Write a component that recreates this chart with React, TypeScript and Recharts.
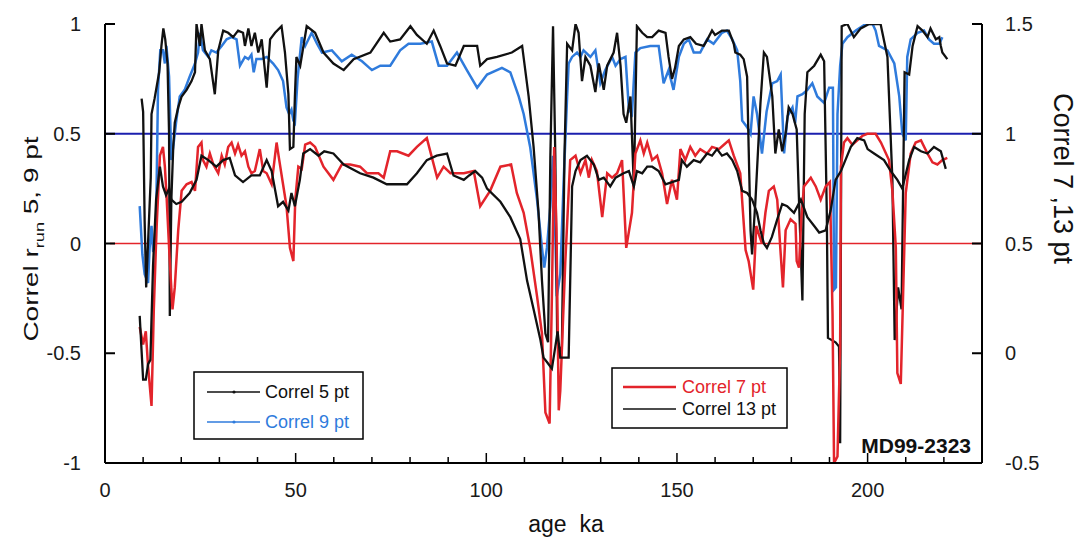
import { LineChart, Line, XAxis, YAxis, ReferenceLine } from 'recharts'

// [age ka, correlation] pairs; 5 and 9 pt on the left scale, 7 and 13 pt on the right scale
const correl5: [number, number][] = [
  [9.6, 0.66], [10.0, 0.6], [10.4, 0.1], [10.8, -0.2], [11.4, 0.05], [12.0, 0.3], [12.2, 0.59], [13.0, 0.66],
  [13.6, 0.72], [14.2, 0.78], [14.8, 0.9], [15.3, 0.98], [15.8, 0.93], [16.4, 0.82], [16.8, 0.5], [17.0, -0.33],
  [17.4, 0.2], [17.9, 0.44], [18.3, 0.55], [19.2, 0.62], [20.1, 0.67], [21.4, 0.7], [22.7, 0.74], [23.6, 0.78],
  [24.0, 1.0], [24.9, 0.9], [25.3, 1.0], [26.2, 0.88], [27.5, 0.84], [28.8, 0.68], [29.7, 0.88], [31.0, 0.97],
  [32.3, 0.96], [33.6, 0.94], [34.9, 0.97], [36.2, 0.96], [36.7, 0.9], [37.6, 0.98], [38.4, 0.9], [39.3, 0.96],
  [40.2, 0.87], [41.1, 0.93], [42.4, 0.71], [43.3, 0.93], [44.6, 0.96], [46.3, 0.99], [47.2, 0.87], [48.1, 0.68],
  [48.5, 0.43], [49.4, 0.44], [49.8, 0.67], [50.2, 0.85], [51.2, 0.81], [52.9, 0.99], [55.1, 0.96], [57.3, 0.87],
  [59.9, 0.82], [62.6, 0.79], [65.2, 0.84], [69.6, 0.87], [73.1, 0.96], [74.8, 0.92], [77.4, 0.93], [80.1, 0.99],
  [81.8, 0.95], [84.4, 0.91], [86.2, 0.97], [87.9, 0.9], [89.7, 0.82], [91.9, 0.81], [94.1, 0.9], [97.6, 0.9],
  [98.4, 0.81], [100.2, 0.84], [102.8, 0.85], [106.7, 0.87], [109.4, 0.9], [111.1, 0.67], [112.4, 0.44], [113.7, 0.14],
  [114.6, -0.17], [115.5, -0.41], [116.2, -0.45], [116.8, 0.4], [117.5, 0.99], [118.1, 0.4], [118.6, -0.45], [119.8, -0.5],
  [120.5, 0.4], [121.2, 0.91], [122.5, 0.88], [123.4, 1.0], [124.2, 0.96], [125.1, 0.74], [126.0, 0.85], [127.3, 0.81],
  [128.6, 0.69], [129.5, 0.82], [130.8, 0.7], [131.7, 0.81], [133.4, 0.87], [134.3, 0.96], [135.2, 0.81], [136.0, 0.59],
  [136.7, 0.55], [137.8, 0.67], [138.7, 0.26], [139.5, 0.99], [140.9, 0.96], [142.2, 0.94], [143.5, 0.94], [145.2, 0.97],
  [147.0, 0.96], [147.8, 0.85], [148.7, 0.75], [149.5, 0.8], [150.5, 0.9], [151.8, 0.93], [153.5, 0.94], [155.0, 0.91],
  [157.0, 0.9], [158.0, 0.93], [159.2, 0.97], [160.0, 0.95], [161.8, 0.97], [163.6, 0.97], [164.9, 0.91], [165.3, 0.87],
  [166.6, 0.86], [167.5, 0.84], [168.4, 0.76], [168.8, 0.44], [169.3, 0.06], [169.7, -0.05], [170.6, 0.2], [171.9, 0.64],
  [172.8, 0.87], [173.6, 0.85], [175.0, 0.67], [175.8, 0.41], [176.7, 0.52], [177.6, 0.42], [178.5, 0.5], [179.3, 0.62],
  [180.3, 0.59], [181.4, 0.52], [182.0, 0.2], [182.9, -0.26], [183.5, 0.59], [184.2, 0.78], [186.0, 0.81], [187.7, 0.86],
  [188.6, 0.83], [189.3, 0.14], [189.6, -0.43], [191.6, -0.45], [192.5, -0.47], [192.8, -0.91], [193.2, 0.99], [194.7, 1.0],
  [196.4, 0.94], [198.2, 0.98], [200.4, 1.0], [203.4, 1.0], [205.2, 0.85], [206.5, 0.29], [207.1, -0.44], [208.0, -0.2],
  [208.9, -0.3], [209.7, 0.78], [210.9, 0.77], [211.8, 0.9], [213.1, 0.99], [214.4, 0.97], [215.7, 0.94], [216.5, 0.98],
  [217.9, 0.93], [218.8, 0.94], [219.2, 0.9], [219.6, 0.87], [220.9, 0.84],
]

const correl9: [number, number][] = [
  [9.1, 0.17], [9.8, -0.05], [10.4, -0.14], [11.3, -0.18], [11.7, -0.02], [12.2, 0.08], [12.6, -0.03], [13.3, -0.02],
  [13.9, 0.7], [14.5, 0.88], [15.2, 0.88], [15.7, 0.82], [16.1, 0.9], [16.8, 0.76], [17.4, 0.38], [17.9, 0.44],
  [18.7, 0.56], [19.6, 0.67], [20.9, 0.7], [22.2, 0.76], [23.6, 0.82], [24.4, 0.87], [24.9, 0.96], [25.7, 0.88],
  [27.1, 0.85], [27.9, 0.88], [29.2, 0.87], [30.6, 0.9], [31.9, 0.93], [33.2, 0.94], [34.5, 0.93], [35.4, 0.81],
  [36.7, 0.85], [37.6, 0.84], [38.4, 0.86], [39.0, 0.78], [39.7, 0.84], [41.1, 0.84], [42.4, 0.85], [44.1, 0.82],
  [45.4, 0.79], [46.7, 0.74], [47.6, 0.62], [48.3, 0.59], [48.9, 0.61], [49.4, 0.56], [49.8, 0.55], [50.5, 0.75],
  [51.6, 0.94], [52.5, 0.9], [54.2, 0.96], [55.6, 0.91], [56.9, 0.87], [59.5, 0.88], [62.1, 0.83], [64.7, 0.86],
  [67.4, 0.83], [70.0, 0.79], [72.2, 0.81], [74.8, 0.81], [77.4, 0.88], [79.6, 0.91], [82.7, 0.91], [85.7, 0.92],
  [87.5, 0.81], [89.7, 0.81], [92.3, 0.87], [94.9, 0.79], [97.6, 0.71], [100.2, 0.77], [104.1, 0.8], [106.3, 0.78],
  [108.5, 0.67], [109.8, 0.59], [111.5, 0.44], [113.3, 0.2], [114.6, -0.02], [115.2, -0.11], [115.9, -0.02], [116.8, 0.17],
  [117.5, 0.4], [118.0, 0.1], [118.5, -0.24], [119.4, -0.14], [120.3, 0.29], [121.2, 0.67], [121.6, 0.82], [122.5, 0.85],
  [123.8, 0.87], [124.7, 0.85], [125.5, 0.88], [127.3, 0.85], [128.6, 0.88], [129.9, 0.73], [131.2, 0.79], [133.0, 0.85],
  [133.9, 0.81], [135.2, 0.84], [136.5, 0.85], [137.4, 0.61], [138.2, 0.59], [139.1, 0.87], [140.4, 0.89], [143.0, 0.9],
  [145.2, 0.9], [146.5, 0.73], [147.8, 0.79], [149.1, 0.7], [150.5, 0.85], [151.8, 0.91], [153.1, 0.93], [154.4, 0.87],
  [156.1, 0.87], [157.9, 0.93], [159.6, 0.91], [161.8, 0.96], [163.1, 0.97], [164.5, 0.93], [165.8, 0.88], [166.6, 0.74],
  [167.1, 0.56], [168.4, 0.53], [169.3, 0.5], [170.1, 0.67], [171.0, 0.59], [172.3, 0.41], [173.5, 0.6], [175.0, 0.73],
  [176.3, 0.74], [177.2, 0.77], [178.1, 0.41], [179.0, 0.58], [180.3, 0.62], [181.0, 0.55], [181.6, 0.67], [182.9, 0.68],
  [184.2, 0.7], [185.5, 0.73], [186.8, 0.67], [188.6, 0.64], [189.9, 0.71], [190.9, 0.71], [191.2, -0.21], [191.7, -0.2],
  [192.1, 0.59], [192.8, 0.81], [193.4, 0.91], [194.7, 0.94], [196.9, 0.97], [199.5, 1.0], [201.3, 1.0], [202.1, 0.97],
  [203.0, 0.9], [205.2, 0.88], [207.0, 0.82], [208.3, 0.67], [209.1, 0.5], [210.0, 0.47], [210.4, 0.85], [211.3, 0.93],
  [213.1, 0.96], [214.8, 0.97], [216.1, 0.93], [217.4, 0.91], [218.8, 0.91], [219.6, 0.94],
]

const correl7: [number, number][] = [
  [9.1, 0.12], [10.0, 0.04], [10.7, 0.1], [11.3, -0.06], [12.2, -0.24], [12.8, 0.2], [13.5, 0.56], [14.4, 0.9],
  [15.2, 0.94], [15.7, 0.85], [16.1, 0.73], [16.9, 0.45], [17.7, 0.2], [18.3, 0.3], [19.2, 0.56], [20.1, 0.74],
  [21.4, 0.77], [22.7, 0.78], [23.6, 0.74], [24.4, 0.94], [25.3, 0.96], [25.7, 0.88], [26.6, 0.85], [27.5, 0.91],
  [28.4, 0.86], [29.7, 0.82], [30.6, 0.9], [31.4, 0.86], [32.3, 0.94], [33.2, 0.96], [34.1, 0.91], [34.9, 0.95],
  [35.8, 0.9], [36.7, 0.92], [37.6, 0.85], [38.4, 0.82], [39.3, 0.83], [40.6, 0.93], [41.5, 0.83], [42.4, 0.82],
  [43.7, 0.77], [45.0, 0.96], [45.7, 0.88], [46.6, 0.78], [47.6, 0.67], [48.5, 0.48], [49.4, 0.42], [49.9, 0.7],
  [50.7, 0.85], [51.6, 0.84], [52.5, 0.95], [53.8, 0.96], [55.1, 0.94], [57.3, 0.85], [59.9, 0.79], [62.1, 0.86],
  [64.3, 0.86], [66.9, 0.85], [68.7, 0.82], [71.7, 0.82], [73.1, 0.8], [74.8, 0.92], [76.6, 0.92], [79.6, 0.9],
  [81.8, 0.94], [84.4, 0.98], [87.1, 0.8], [88.8, 0.85], [90.6, 0.82], [92.3, 0.82], [94.1, 0.82], [96.7, 0.83],
  [98.4, 0.67], [101.0, 0.74], [103.7, 0.85], [106.5, 0.86], [108.0, 0.73], [109.8, 0.64], [111.5, 0.48], [113.3, 0.26],
  [114.6, 0.09], [115.5, -0.27], [116.6, -0.32], [117.2, 0.26], [117.8, 0.94], [118.4, 0.56], [119.0, -0.26], [119.4, -0.17],
  [120.7, 0.41], [122.0, 0.88], [123.4, 0.9], [124.7, 0.82], [126.0, 0.88], [126.9, 0.8], [127.7, 0.88], [129.0, 0.83],
  [130.4, 0.62], [131.7, 0.82], [133.0, 0.8], [134.3, 0.82], [135.6, 0.88], [136.7, 0.48], [138.2, 0.64], [139.1, 0.91],
  [140.4, 0.97], [141.3, 0.91], [142.2, 0.96], [143.5, 0.88], [144.8, 0.9], [146.1, 0.82], [147.4, 0.68], [148.7, 0.79],
  [150.0, 0.7], [150.9, 0.93], [152.2, 0.88], [153.5, 0.94], [154.8, 0.9], [156.1, 0.93], [157.9, 0.91], [159.2, 0.94],
  [161.0, 0.93], [162.3, 0.95], [163.6, 0.97], [164.9, 0.9], [166.6, 0.82], [168.0, 0.47], [168.8, 0.42], [170.0, 0.29],
  [170.8, 0.58], [171.5, 0.54], [172.3, 0.5], [173.2, 0.64], [174.1, 0.74], [175.4, 0.76], [176.3, 0.7], [177.1, 0.48],
  [177.8, 0.3], [178.5, 0.56], [179.8, 0.61], [181.1, 0.59], [181.4, 0.42], [182.0, 0.39], [182.6, 0.61], [183.3, 0.76],
  [185.1, 0.8], [186.4, 0.76], [187.7, 0.7], [189.0, 0.76], [190.1, 0.78], [190.8, 0.18], [191.2, -0.5], [192.1, -0.47],
  [192.8, 0.03], [193.0, 0.85], [193.8, 0.96], [194.7, 0.98], [196.0, 0.95], [197.3, 0.97], [198.6, 0.99], [199.9, 1.0],
  [202.1, 1.0], [203.5, 0.96], [205.6, 0.88], [206.5, 0.74], [207.4, 0.48], [207.8, -0.09], [208.7, -0.14], [209.4, 0.33],
  [210.0, 0.73], [211.3, 0.91], [212.6, 0.96], [214.0, 0.97], [215.7, 0.91], [217.0, 0.87], [218.3, 0.86], [219.6, 0.88],
  [220.9, 0.89],
]

const correl13: [number, number][] = [
  [9.1, 0.17], [10.0, -0.12], [10.7, -0.12], [11.3, -0.05], [11.9, -0.03], [12.6, 0.4], [13.4, 0.7], [14.4, 0.85],
  [15.2, 0.76], [16.0, 0.72], [16.8, 0.75], [17.4, 0.7], [18.7, 0.68], [20.1, 0.69], [22.2, 0.73], [24.0, 0.79],
  [25.3, 0.9], [27.1, 0.88], [29.2, 0.85], [31.0, 0.88], [32.7, 0.89], [34.1, 0.81], [36.2, 0.78], [38.4, 0.81],
  [40.6, 0.81], [42.4, 0.88], [43.7, 0.83], [45.4, 0.67], [46.7, 0.69], [48.1, 0.65], [48.9, 0.73], [49.8, 0.67],
  [51.1, 0.79], [52.0, 0.91], [53.8, 0.93], [56.0, 0.9], [57.5, 0.92], [59.9, 0.91], [62.6, 0.86], [66.9, 0.82],
  [70.4, 0.8], [73.9, 0.77], [79.2, 0.77], [81.8, 0.82], [84.4, 0.88], [87.0, 0.9], [89.7, 0.91], [91.4, 0.81],
  [94.1, 0.79], [95.5, 0.81], [97.1, 0.83], [98.9, 0.8], [100.2, 0.75], [103.7, 0.69], [106.3, 0.62], [108.9, 0.52],
  [110.7, 0.33], [112.4, 0.2], [114.2, 0.06], [115.0, -0.02], [115.9, -0.04], [117.2, -0.07], [118.1, 0.03], [118.7, 0.1],
  [119.4, -0.02], [120.7, -0.02], [121.6, -0.02], [122.5, 0.76], [123.4, 0.83], [124.7, 0.88], [126.4, 0.9], [128.2, 0.86],
  [129.5, 0.79], [130.8, 0.8], [132.5, 0.76], [133.9, 0.8], [136.0, 0.82], [137.4, 0.83], [138.7, 0.76], [139.5, 0.83],
  [140.9, 0.82], [142.2, 0.85], [143.5, 0.85], [145.2, 0.83], [147.0, 0.77], [148.7, 0.78], [150.5, 0.79], [151.3, 0.88],
  [152.6, 0.85], [154.4, 0.88], [156.1, 0.87], [157.9, 0.91], [159.2, 0.9], [160.5, 0.93], [161.8, 0.9], [163.1, 0.91],
  [164.5, 0.88], [165.8, 0.83], [167.1, 0.74], [168.4, 0.73], [169.7, 0.7], [171.0, 0.64], [171.9, 0.56], [172.8, 0.5],
  [173.6, 0.48], [174.9, 0.53], [176.3, 0.61], [177.6, 0.68], [178.9, 0.67], [180.7, 0.64], [182.5, 0.7], [184.2, 0.62],
  [186.0, 0.58], [187.3, 0.55], [189.0, 0.56], [190.3, 0.65], [191.6, 0.79], [193.0, 0.83], [195.6, 0.94], [197.3, 0.98],
  [199.1, 0.97], [200.0, 0.93], [201.7, 0.91], [204.3, 0.88], [206.1, 0.83], [207.8, 0.79], [209.1, 0.75], [210.9, 0.88],
  [212.2, 0.94], [214.0, 0.92], [215.7, 0.91], [217.4, 0.94], [219.2, 0.92], [220.5, 0.84],
]

const xTicks = [0, 10, 20, 30, 40, 50, 60, 70, 80, 90, 100, 110, 120, 130, 140, 150, 160, 170, 180, 190, 200, 210, 220, 230]
const leftTicks = [-1, -0.5, 0, 0.5, 1]
const rightTicks = [-0.5, 0, 0.5, 1, 1.5]

const FONT = '"Liberation Sans", Arial, sans-serif'
const BLACK = '#111'
const BLUE = '#2f7bdc'
const RED = '#e3242b'
const NAVY = '#1b1fae'

const rows = (pts: [number, number][]) => pts.map(([age, v]) => ({ age, v }))

// ticks point into the plot, so the tick mark is drawn together with its label
function LeftTick({ x, y, payload }: any) {
  return (
    <g>
      <line x1={x} x2={x + 10} y1={y} y2={y} stroke="#000" strokeWidth={2} />
      <text x={x - 24} y={y + 7} textAnchor="end" fontSize={20} fontFamily={FONT} fill="#1a1a1a">
        {payload.value}
      </text>
    </g>
  )
}

function RightTick({ x, y, payload }: any) {
  return (
    <g>
      <line x1={x - 10} x2={x} y1={y} y2={y} stroke="#000" strokeWidth={2} />
      <text x={x + 23} y={y + 7} textAnchor="start" fontSize={20} fontFamily={FONT} fill="#1a1a1a">
        {payload.value}
      </text>
    </g>
  )
}

function BottomTick({ x, y, payload }: any) {
  const major = payload.value % 50 === 0
  return (
    <g>
      <line x1={x} x2={x} y1={y} y2={y - (major ? 10 : 6)} stroke="#000" strokeWidth={1.5} />
      {major && (
        <text x={x} y={y + 34} textAnchor="middle" fontSize={20} fontFamily={FONT} fill="#1a1a1a">
          {payload.value}
        </text>
      )}
    </g>
  )
}

export default function App() {
  const W = 1081
  const H = 538

  // pinned to the page corner so the figure fills the window without scrolling
  return (
    <div style={{ position: 'absolute', left: 0, top: 0, width: W, height: H, fontFamily: FONT, background: '#fff' }}>
      <LineChart width={W} height={H} margin={{ top: 24, right: 21, bottom: 25, left: 0 }}>
        <XAxis
          dataKey="age"
          type="number"
          domain={[0, 230]}
          ticks={xTicks}
          interval={0}
          height={50}
          tickSize={0}
          tickMargin={0}
          tickLine={false}
          axisLine={{ stroke: '#000', strokeWidth: 2 }}
          tick={<BottomTick />}
          allowDataOverflow
        />
        <YAxis
          yAxisId="left"
          type="number"
          domain={[-1, 1]}
          ticks={leftTicks}
          interval={0}
          width={105}
          tickSize={0}
          tickMargin={0}
          tickLine={false}
          axisLine={{ stroke: '#000', strokeWidth: 2 }}
          tick={<LeftTick />}
          allowDataOverflow
        />
        <YAxis
          yAxisId="right"
          orientation="right"
          type="number"
          domain={[-0.5, 1.5]}
          ticks={rightTicks}
          interval={0}
          width={78}
          tickSize={0}
          tickMargin={0}
          tickLine={false}
          axisLine={{ stroke: '#000', strokeWidth: 2 }}
          tick={<RightTick />}
          allowDataOverflow
        />
        <ReferenceLine yAxisId="left" y={0.5} stroke={NAVY} strokeWidth={2} />
        <ReferenceLine
          yAxisId="left"
          segment={[{ x: 1.3, y: 0 }, { x: 230, y: 0 }]}
          stroke={RED}
          strokeWidth={1.5}
        />
        <Line yAxisId="left" data={rows(correl9)} dataKey="v" type="linear" stroke={BLUE} strokeWidth={2.5} dot={false} isAnimationActive={false} />
        <Line yAxisId="left" data={rows(correl5)} dataKey="v" type="linear" stroke={BLACK} strokeWidth={2.3} dot={false} isAnimationActive={false} />
        <Line yAxisId="right" data={rows(correl7)} dataKey="v" type="linear" stroke={RED} strokeWidth={2.5} dot={false} isAnimationActive={false} />
        <Line yAxisId="right" data={rows(correl13)} dataKey="v" type="linear" stroke={BLACK} strokeWidth={2.3} dot={false} isAnimationActive={false} />
      </LineChart>

      <svg width={W} height={H} style={{ position: 'absolute', left: 0, top: 0, pointerEvents: 'none' }}>
        {/* axis titles */}
        <text transform="translate(38,239) rotate(-90) scale(1.4,1)" textAnchor="middle" fontSize={20} fontFamily={FONT} fill="#111">
          Correl r
          <tspan fontSize={13} dy={6}>run</tspan>
          <tspan dy={-6}> 5, 9 pt</tspan>
        </text>
        <text transform="translate(1054,93) rotate(90)" textAnchor="start" fontSize={27} fontFamily={FONT} fill="#111">
          Correl 7 ,13 pt
        </text>
        <text x={566} y={532} textAnchor="middle" fontSize={23} fontFamily={FONT} fill="#111" style={{ whiteSpace: 'pre' }}>
          {'age  ka'}
        </text>

        {/* legend, 5 and 9 pt */}
        <rect x={194} y={372} width={169} height={67} fill="#fff" stroke="#000" strokeWidth={1.5} />
        <line x1={207} x2={260} y1={392} y2={392} stroke={BLACK} strokeWidth={1.5} />
        <circle cx={234} cy={392} r={1.6} fill={BLACK} />
        <text x={265} y={398} fontSize={18} fontFamily={FONT} fill="#111">Correl 5 pt</text>
        <line x1={207} x2={260} y1={422} y2={422} stroke={BLUE} strokeWidth={1.5} />
        <circle cx={234} cy={422} r={1.6} fill={BLUE} />
        <text x={265} y={428} fontSize={18} fontFamily={FONT} fill={BLUE}>Correl 9 pt</text>

        {/* legend, 7 and 13 pt */}
        <rect x={612} y={368} width={175} height={60} fill="#fff" stroke="#000" strokeWidth={1.5} />
        <line x1={623} x2={676} y1={387} y2={387} stroke={RED} strokeWidth={2.5} />
        <text x={682} y={393} fontSize={18} fontFamily={FONT} fill={RED}>Correl 7 pt</text>
        <line x1={623} x2={676} y1={409} y2={409} stroke={BLACK} strokeWidth={1.5} />
        <text x={682} y={415} fontSize={18} fontFamily={FONT} fill="#111">Correl 13 pt</text>

        <text x={971} y={453} textAnchor="end" fontSize={21} fontWeight="bold" fontFamily={FONT} fill="#111">
          MD99-2323
        </text>
      </svg>
    </div>
  )
}
